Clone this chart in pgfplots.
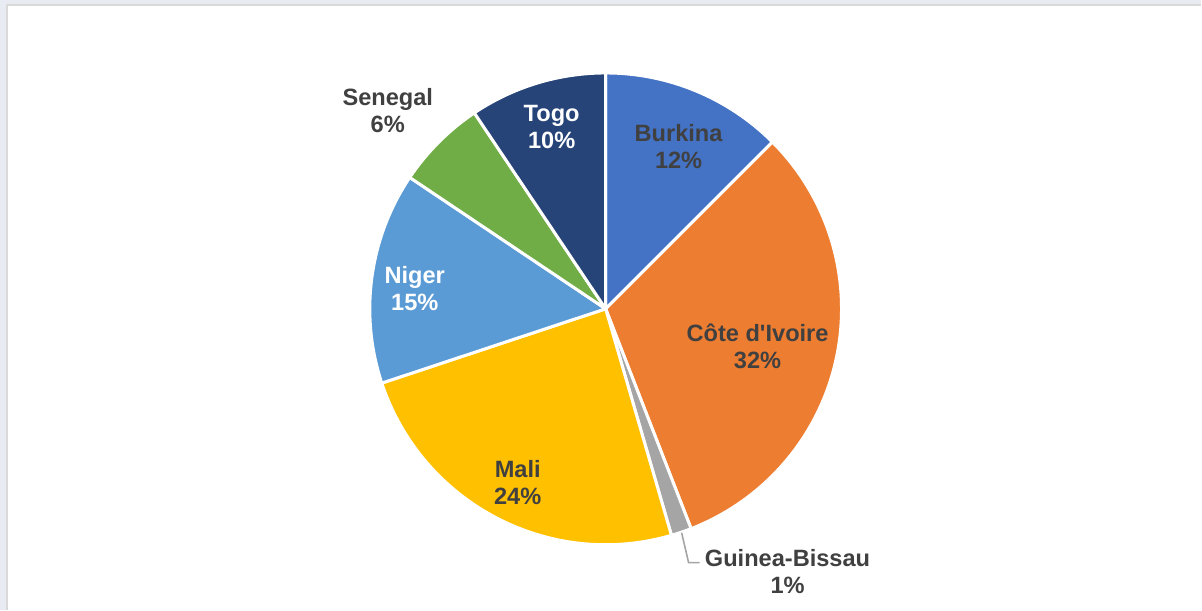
\documentclass[border=0pt]{standalone}
\usepackage{pgfplots}
\usepackage{pgfplotstable}
\usepackage{fontspec}
\setmainfont{Liberation Sans}
\pgfplotsset{compat=1.18}
\definecolor{c0}{HTML}{4472C4}
\definecolor{c1}{HTML}{ED7D31}
\definecolor{c2}{HTML}{A5A5A5}
\definecolor{c3}{HTML}{FFC000}
\definecolor{c4}{HTML}{5B9BD5}
\definecolor{c5}{HTML}{70AD47}
\definecolor{c6}{HTML}{264478}
\definecolor{txt}{HTML}{404040}
\definecolor{bg}{HTML}{E9EBF2}
\definecolor{frame}{HTML}{D9D9D9}
\pgfplotstableread[col sep=comma]{
name,value,col
Burkina,12.5,c0
Cote,31.6,c1
Guinea,1.4,c2
Mali,24.4,c3
Niger,14.5,c4
Senegal,6.2,c5
Togo,9.4,c6
}\piedata
\begin{document}
\begin{tikzpicture}
\begin{axis}[
  scale only axis, width=601pt, height=305pt,
  xmin=0, xmax=1202, ymin=0, ymax=610,
  hide axis, clip=false]
\fill[bg] (axis cs:0,0) rectangle (axis cs:1202,610);
\fill[white] (axis cs:7,0) rectangle (axis cs:1202,605);
\draw[frame, line width=0.7pt] (axis cs:7,0) -- (axis cs:7,605) -- (axis cs:1202,605);
\pgfplotsextra{
  \pgfplotstablegetrowsof{\piedata}
  \pgfmathtruncatemacro\N{\pgfplotsretval-1}
  \xdef\cum{90}
  \foreach \i in {0,...,\N}{
    \pgfplotstablegetelem{\i}{value}\of\piedata
    \pgfmathsetmacro\v{\pgfplotsretval}
    \pgfplotstablegetelem{\i}{col}\of\piedata
    \edef\c{\pgfplotsretval}
    \pgfmathsetmacro\endang{\cum-3.6*\v}
    \filldraw[fill=\c, draw=white, line width=1.5pt, line join=round]
      (axis cs:606,301) -- ++(\cum:118pt) arc[start angle=\cum, end angle=\endang, radius=118pt] -- cycle;
    \xdef\cum{\endang}
  }
}
\draw[c2, line width=0.8pt] (axis cs:682,77) -- (axis cs:689,47) -- (axis cs:700,47);
\begin{scope}[every node/.style={font=\fontsize{11.8pt}{13.5pt}\selectfont\bfseries, align=center, inner sep=0pt}]
\node[text=txt] at (axis cs:679,463) {Burkina\\12\%};
\node[text=txt] at (axis cs:758,263) {Côte d\textquotesingle Ivoire\\32\%};
\node[text=txt] at (axis cs:518,127) {Mali\\24\%};
\node[text=white] at (axis cs:415,321) {Niger\\15\%};
\node[text=white] at (axis cs:552,483) {Togo\\10\%};
\node[text=txt] at (axis cs:388,499) {Senegal\\6\%};
\node[text=txt] at (axis cs:788,38) {Guinea-Bissau\\1\%};
\end{scope}
\end{axis}
\end{tikzpicture}
\end{document}
